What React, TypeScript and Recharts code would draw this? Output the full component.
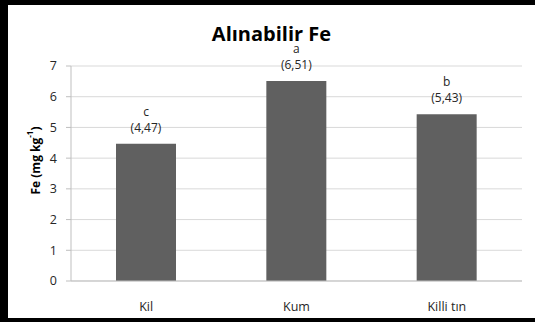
import React from "react";
import { BarChart, Bar, XAxis, YAxis, CartesianGrid, LabelList } from "recharts";

const categories = ["Kil", "Kum", "Killi tın"];
const feValues = [4.47, 6.51, 5.43];
const valueLabels = ["(4,47)", "(6,51)", "(5,43)"];
const groupLetters = ["c", "a", "b"];
const yTicks = [0, 1, 2, 3, 4, 5, 6, 7];

const data = categories.map((name, i) => ({
  name,
  fe: feValues[i],
  label: valueLabels[i],
  letter: groupLetters[i],
}));

const FONT = "'Open Sans', 'DejaVu Sans', sans-serif";

const renderBarLabel = (props: any) => {
  const { x, y, width, index } = props;
  const cx = x + width / 2;
  const d = data[index];
  return (
    <g>
      <text x={cx} y={y - 28} textAnchor="middle" fontSize={12} fill="#262626" fontFamily={FONT}>
        {d.letter}
      </text>
      <text x={cx} y={y - 12} textAnchor="middle" fontSize={12} fill="#262626" fontFamily={FONT}>
        {d.label}
      </text>
    </g>
  );
};

const renderYLabel = (props: any) => {
  const vb = props.viewBox || {};
  const cx = 35;
  const cy = (vb.y ?? 66) + (vb.height ?? 215) / 2 - 13;
  return (
    <text
      x={cx}
      y={cy}
      transform={`rotate(-90, ${cx}, ${cy})`}
      textAnchor="middle"
      dominantBaseline="central"
      fontSize={12}
      fontWeight="bold"
      fill="#000"
      fontFamily={FONT}
    >
      <tspan>Fe (mg kg</tspan>
      <tspan baselineShift="super" fontSize={8}>-1</tspan>
      <tspan>)</tspan>
    </text>
  );
};

export default function App() {
  React.useEffect(() => {
    document.documentElement.style.overflow = "hidden";
    document.body.style.overflow = "hidden";
  }, []);
  return (
    <div style={{ position: "absolute", left: 0, top: 0, width: 535, height: 322, background: "#fff", overflow: "hidden" }}>
      <div
        style={{
          position: "absolute",
          left: 0,
          top: 0,
          width: 535,
          height: 322,
          boxSizing: "border-box",
          borderTop: "5px solid #000",
          borderLeft: "8px solid #000",
          borderBottom: "4px solid #000",
        }}
      />
      <div
        style={{
          position: "absolute",
          left: 8,
          top: 25,
          width: 527,
          textAlign: "center",
          fontFamily: FONT,
          fontWeight: "bold",
          fontSize: 20,
          lineHeight: "18px",
          color: "#000",
        }}
      >
        Alınabilir Fe
      </div>
      <div style={{ position: "absolute", left: 0, top: 0 }}>
        <BarChart
          width={535}
          height={322}
          data={data}
          margin={{ top: 66, right: 13, bottom: 11, left: 31 }}
          barSize={60}
        >
          <CartesianGrid vertical={false} stroke="#d9d9d9" />
          <XAxis
            dataKey="name"
            height={30}
            tickLine={false}
            axisLine={{ stroke: "#bfbfbf" }}
            tickMargin={15}
            tick={{ fontSize: 12.5, fill: "#262626", fontFamily: FONT }}
          />
          <YAxis
            width={40}
            domain={[0, 7]}
            ticks={yTicks}
            interval={0}
            tickSize={5}
            tickMargin={9}
            axisLine={{ stroke: "#bfbfbf" }}
            tickLine={{ stroke: "#bfbfbf" }}
            tick={{ fontSize: 12.5, fill: "#262626", fontFamily: FONT }}
            label={{ content: renderYLabel }}
          />
          <Bar dataKey="fe" fill="#606060" isAnimationActive={false}>
            <LabelList dataKey="fe" content={renderBarLabel} />
          </Bar>
        </BarChart>
      </div>
    </div>
  );
}
